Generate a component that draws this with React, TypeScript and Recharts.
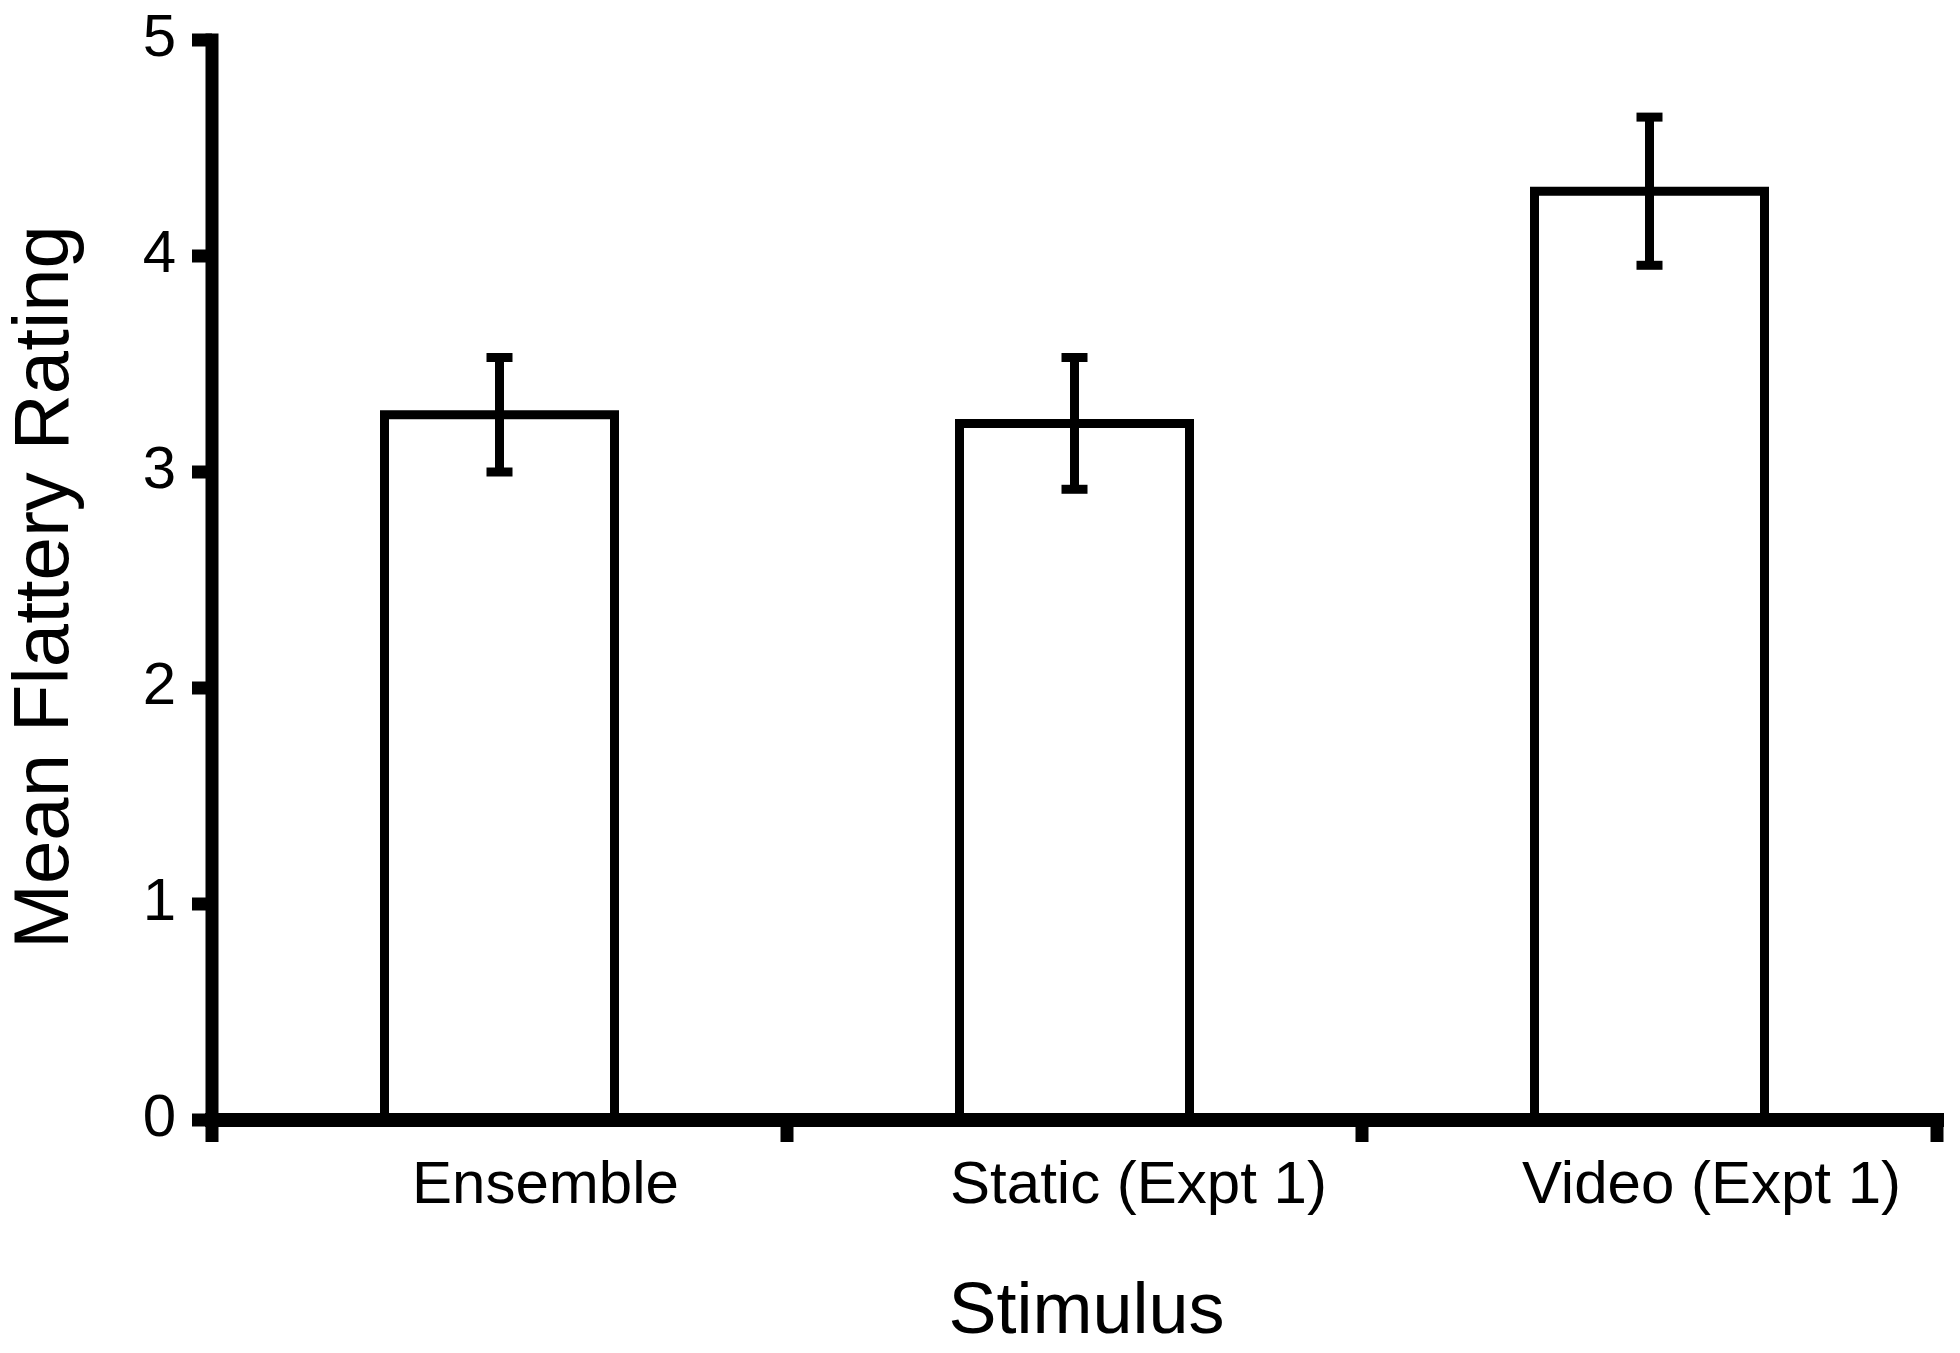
import { BarChart, Bar, XAxis, YAxis, ErrorBar, Label } from 'recharts'

const categories = ['Ensemble', 'Static (Expt 1)', 'Video (Expt 1)']
const means = [3.265, 3.225, 4.3]
const errors = [0.265, 0.305, 0.343]
const yTicks = [0, 1, 2, 3, 4, 5]

const data = categories.map((name, i) => ({ name, mean: means[i], err: errors[i] }))

const FONT = '"Liberation Sans", Arial, Helvetica, sans-serif'
const LABEL_SHIFT = [46, 64, 62] // labels sit right of the category centres in the original

// category label plus the tick marks on the band edges
function CatTick(props: any) {
  const { x, y, payload, width, visibleTicksCount } = props
  const i = categories.indexOf(payload.value)
  const half = width / visibleTicksCount / 2
  const last = i === categories.length - 1
  return (
    <g>
      <line x1={x - half} x2={x - half} y1={y} y2={y + 22} stroke="#000" strokeWidth={13} />
      {last && <line x1={x + half} x2={x + half} y1={y} y2={y + 22} stroke="#000" strokeWidth={13} />}
      <text x={x + LABEL_SHIFT[i]} y={y + 83} textAnchor="middle" fontSize={60} fontFamily={FONT} fill="#000">
        {payload.value}
      </text>
    </g>
  )
}

function ValTick(props: any) {
  const { x, y, payload } = props
  return (
    <text x={x} y={y + 16} textAnchor="end" fontSize={60} fontFamily={FONT} fill="#000">
      {payload.value}
    </text>
  )
}

export default function App() {
  return (
    <div style={{ width: 1944, height: 1337, background: '#fff' }}>
      <BarChart width={1944} height={1337} data={data} barCategoryGap="30%"
        margin={{ top: 32, right: 15, bottom: 224, left: 0 }}>
        <XAxis dataKey="name" height={1} interval={0} tickLine={false} tickSize={0} tickMargin={0}
          axisLine={{ stroke: '#000', strokeWidth: 14, strokeLinecap: 'square' }} tick={<CatTick />}>
          <Label content={(p: any) => (
            <text x={p.viewBox.x + p.viewBox.width / 2 + 12} y={p.viewBox.y + 213} textAnchor="middle"
              fontSize={72} fontFamily={FONT} fill="#000">Stimulus</text>
          )} />
        </XAxis>
        <YAxis width={204} domain={[0, 5]} ticks={yTicks} interval={0}
          axisLine={{ stroke: '#000', strokeWidth: 13, strokeLinecap: 'square' }}
          tickLine={{ stroke: '#000', strokeWidth: 13 }} tickSize={20} tickMargin={16} tick={<ValTick />}>
          <Label content={(p: any) => {
            const cx = p.viewBox.x + 60
            const cy = p.viewBox.y + p.viewBox.height / 2 + 7
            return (
              <text x={cx} y={cy} transform={`rotate(-90 ${cx} ${cy})`} textAnchor="middle"
                fontSize={78} fontFamily={FONT} fill="#000">Mean Flattery Rating</text>
            )
          }} />
        </YAxis>
        <Bar dataKey="mean" fill="#fff" stroke="#000" strokeWidth={9} isAnimationActive={false}>
          <ErrorBar dataKey="err" width={13} stroke="#000" strokeWidth={9} isAnimationActive={false} />
        </Bar>
      </BarChart>
    </div>
  )
}
